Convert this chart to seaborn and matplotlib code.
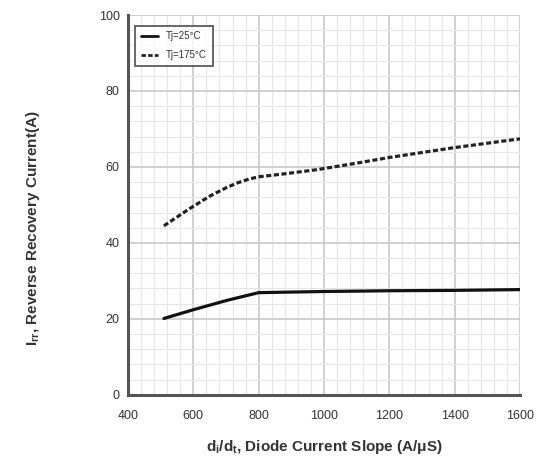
import matplotlib
matplotlib.use("Agg")
import matplotlib.pyplot as plt
import seaborn as sns
import pandas as pd
from matplotlib.ticker import AutoMinorLocator

# Data
x_25 = [510, 600, 700, 800, 1000, 1200, 1400, 1600]
y_25 = [20.1, 22.4, 24.8, 26.9, 27.2, 27.4, 27.5, 27.7]
x_175 = [510, 590, 650, 700, 735, 770, 800, 890, 980, 1100, 1200, 1400, 1600]
y_175 = [44.5, 49.1, 52.3, 54.5, 55.8, 56.8, 57.4, 58.3, 59.3, 61.0, 62.5, 65.1, 67.4]
labels = ["Tj=25°C", "Tj=175°C"]
xticks = [400, 600, 800, 1000, 1200, 1400, 1600]
yticks = [0, 20, 40, 60, 80, 100]

sns.set_style("white")
plt.rcParams['font.family'] = ['Liberation Sans Narrow', 'Liberation Sans', 'DejaVu Sans']
plt.rcParams['mathtext.default'] = 'regular'

df = pd.concat([
    pd.DataFrame({"x": x_25, "y": y_25, "s": labels[0]}),
    pd.DataFrame({"x": x_175, "y": y_175, "s": labels[1]}),
])

fig = plt.figure(figsize=(5.4, 4.7), dpi=100)
ax = fig.add_axes([0.237, 0.16, 0.726, 0.808])

sns.lineplot(data=df, x="x", y="y", hue="s", style="s",
             palette={labels[0]: "#111111", labels[1]: "#222222"},
             dashes={labels[0]: "", labels[1]: (1.6, 0.8)},
             linewidth=2.3, ax=ax, legend=True)

ax.set_xlim(400, 1600)
ax.set_ylim(0, 100)
ax.set_xticks(xticks)
ax.set_yticks(yticks)
ax.xaxis.set_minor_locator(AutoMinorLocator(5))
ax.yaxis.set_minor_locator(AutoMinorLocator(5))
ax.grid(True, which='major', color='#c8c8c8', linewidth=1.2)
ax.grid(True, which='minor', color='#e6e6e6', linewidth=0.8)
ax.set_axisbelow(True)

for s in ['top', 'right']:
    ax.spines[s].set_visible(False)
for s in ['left', 'bottom']:
    ax.spines[s].set_color('#555555')
    ax.spines[s].set_linewidth(2.2)

ax.tick_params(axis='both', which='major', length=3, width=1.5, color='#333333',
               labelsize=9, labelcolor='#333333', direction='out', pad=3)
ax.tick_params(axis='both', which='minor', length=0)
ax.tick_params(axis='x', pad=8)

ax.set_xlabel("d$_{i}$/d$_{t}$, Diode Current Slope (A/μS)", family=['Liberation Sans', 'DejaVu Sans'],
              fontsize=11, fontweight='bold', color='#333333')
ax.set_ylabel("I$_{rr}$, Reverse Recovery Current(A)", family=['Liberation Sans', 'DejaVu Sans'],
              fontsize=11, fontweight='bold', color='#333333')
ax.xaxis.set_label_coords(0.5, -0.115)
ax.yaxis.set_label_coords(-0.22, 0.44)

leg = ax.legend(loc='upper left', fontsize=7, frameon=True, fancybox=False,
                handlelength=1.8, borderpad=0.6, labelspacing=0.9,
                bbox_to_anchor=(0.005, 0.985))
leg.get_frame().set_edgecolor('#333333')
leg.get_frame().set_linewidth(1.3)
for t in leg.get_texts():
    t.set_color('#333333')
for l in leg.get_lines():
    l.set_linewidth(2.0)

fig.savefig("out.png", dpi=100)
